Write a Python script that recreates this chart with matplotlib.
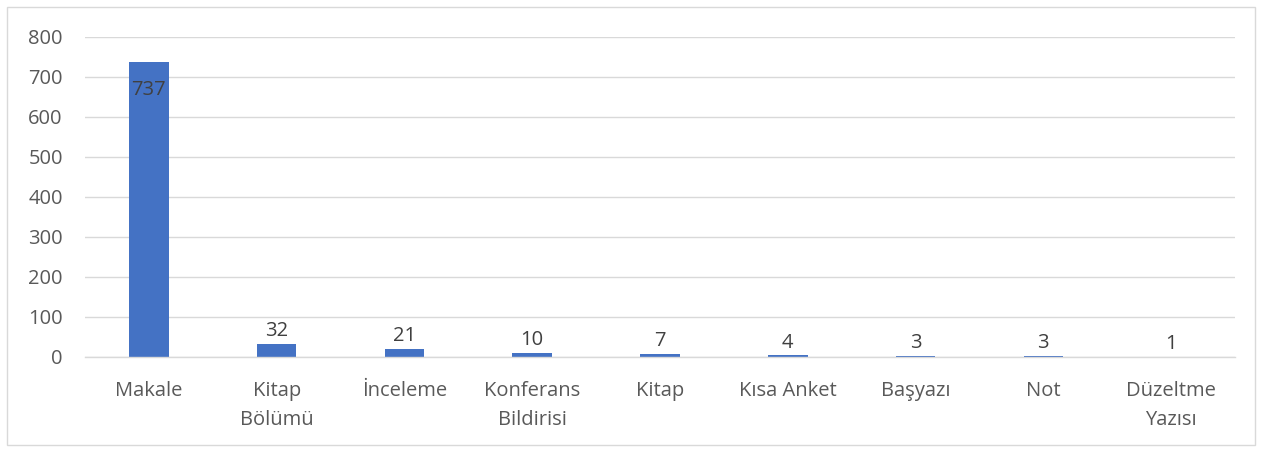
import matplotlib
matplotlib.use("Agg")
import matplotlib.pyplot as plt
from matplotlib.patches import Rectangle

categories = ["Makale", "Kitap\nBölümü", "İnceleme", "Konferans\nBildirisi", "Kitap",
              "Kısa Anket", "Başyazı", "Not", "Düzeltme\nYazısı"]
values = [737, 32, 21, 10, 7, 4, 3, 3, 1]
yticks = [0, 100, 200, 300, 400, 500, 600, 700, 800]

plt.rcParams['font.family'] = ['Open Sans', 'DejaVu Sans']
W, H = 1262, 449
fig = plt.figure(figsize=(W/100, H/100), dpi=100)
ax = fig.add_axes([85/W, 1-357/H, (1235-85)/W, (357-37)/H])

bar_color = "#4472C4"
text_color = "#595959"
grid_color = "#D9D9D9"
fs = 14.5

x = list(range(len(categories)))
bars = ax.bar(x, values, width=0.31, color=bar_color, zorder=3)
ax.set_xlim(-0.5, len(categories)-0.5)
ax.set_ylim(0, 800)
ax.set_yticks(yticks)
ax.set_yticklabels([str(t) for t in yticks])
ax.set_xticks(x)
ax.set_xticklabels(categories, linespacing=1.55)
ax.tick_params(axis='both', length=0, labelsize=fs, colors=text_color)
ax.tick_params(axis='y', pad=16)
ax.tick_params(axis='x', pad=17.5)
for lbl in ax.get_xticklabels():
    lbl.set_verticalalignment('top')
ax.grid(axis='y', color=grid_color, linewidth=1, zorder=0)
for s in ['top', 'right', 'left']:
    ax.spines[s].set_visible(False)
ax.spines['bottom'].set_color(grid_color)
ax.spines['bottom'].set_linewidth(1)
ax.spines['bottom'].set_zorder(4)

for xi, v in zip(x, values):
    if v > 400:
        ax.annotate(str(v), (xi, v), xytext=(0, -13), textcoords='offset points',
                    ha='center', va='top', fontsize=fs, color="#404040", zorder=5)
    else:
        ax.annotate(str(v), (xi, v), xytext=(0, 2), textcoords='offset points',
                    ha='center', va='bottom', fontsize=fs, color="#404040", zorder=5)

fig.patches.append(Rectangle((7/W, 4/H), (1255-7)/W, (442-4)/H, transform=fig.transFigure,
                             fill=False, edgecolor=grid_color, linewidth=1))
fig.savefig("out.png", dpi=100, facecolor="white")
